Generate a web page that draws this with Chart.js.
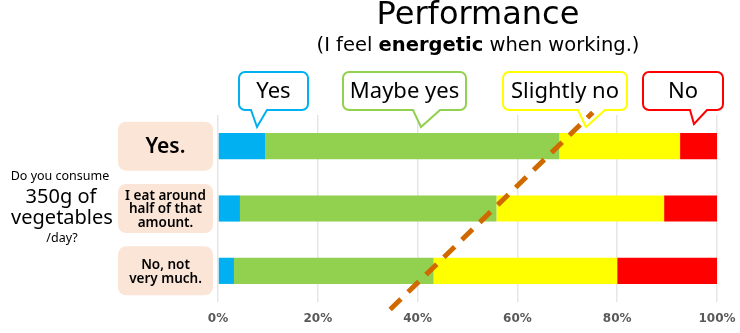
<!DOCTYPE html>
<html><head><meta charset="utf-8">
<script src="https://cdn.jsdelivr.net/npm/chart.js@4/dist/chart.umd.min.js"></script>
<style>html,body{margin:0;padding:0;background:#fff}#wrap{width:740px;height:333px;position:relative}</style>
</head><body><div id="wrap"><canvas id="c" width="740" height="333"></canvas></div>
<script>
// ---------- data ----------
const categories = [['Yes.'], ['I eat around', 'half of that', 'amount.'], ['No, not', 'very much.']];
const seriesNames = ['Yes', 'Maybe yes', 'Slightly no', 'No'];
const yesValues = [9.5, 4.4, 3.2];
const maybeYesValues = [58.9, 51.4, 40.0];
const slightlyNoValues = [24.2, 33.6, 36.8];
const noValues = [7.4, 10.6, 20.0];
const tickValues = [0, 20, 40, 60, 80, 100];
const trendX = [34.5, 75.1];      // % along the value axis
const trendY = [2.62, -0.54];     // category index position
const titleText = 'Performance';
const subtitleParts = ['(I feel ', 'energetic', ' when working.)'];
const sideQuestion = ['Do you consume', '350g of', 'vegetables', '/day?'];

// ---------- styles / layout ----------
const FONT = '"Noto Sans", "DejaVu Sans", sans-serif';
const WFONT = '"DejaVu Sans", sans-serif';
const colors = ['#00b0f0', '#92d050', '#ffff00', '#ff0000'];
const calloutBoxes = [
  {x0: 239, y0: 72, x1: 308, y1: 110, bx0: 251, bx1: 267, ax: 257, ay: 127},
  {x0: 343, y0: 72, x1: 466, y1: 110, bx0: 413, bx1: 440, ax: 421, ay: 127},
  {x0: 503, y0: 72, x1: 627, y1: 110, bx0: 578, bx1: 605, ax: 586, ay: 127},
  {x0: 643, y0: 72, x1: 723, y1: 110, bx0: 690, bx1: 707, ax: 694, ay: 124}
];
const seriesData = [yesValues, maybeYesValues, slightlyNoValues, noValues];

function calloutPath(ctx, b, r) {
  ctx.beginPath();
  ctx.moveTo(b.x0 + r, b.y0);
  ctx.lineTo(b.x1 - r, b.y0); ctx.arcTo(b.x1, b.y0, b.x1, b.y0 + r, r);
  ctx.lineTo(b.x1, b.y1 - r); ctx.arcTo(b.x1, b.y1, b.x1 - r, b.y1, r);
  ctx.lineTo(b.bx1, b.y1); ctx.lineTo(b.ax, b.ay); ctx.lineTo(b.bx0, b.y1);
  ctx.lineTo(b.x0 + r, b.y1); ctx.arcTo(b.x0, b.y1, b.x0, b.y1 - r, r);
  ctx.lineTo(b.x0, b.y0 + r); ctx.arcTo(b.x0, b.y0, b.x0 + r, b.y0, r);
  ctx.closePath();
}

const decor = {
  id: 'decor',
  beforeDatasetsDraw(chart) {
    const ctx = chart.ctx;
    const y = chart.scales.y;
    ctx.save();
    // left category boxes
    categories.forEach((lines, i) => {
      const cy = y.getPixelForValue(i);
      ctx.fillStyle = '#fbe5d6';
      ctx.beginPath();
      ctx.roundRect(118, cy - 24.5, 95, 49, 8);
      ctx.fill();
      ctx.fillStyle = '#000';
      ctx.textAlign = 'center';
      ctx.textBaseline = 'middle';
      if (lines.length === 1) {
        ctx.font = '600 21px ' + FONT;
        ctx.fillText(lines[0], 165.5, cy + 1);
      } else {
        ctx.font = '600 13.5px ' + FONT;
        const lh = 13.8;
        lines.forEach((t, k) => ctx.fillText(t, 165.5, cy + (k - (lines.length - 1) / 2) * lh + 1));
      }
    });
    // side question
    ctx.fillStyle = '#000';
    ctx.textAlign = 'center';
    ctx.textBaseline = 'middle';
    ctx.font = '12.5px ' + FONT; ctx.fillText(sideQuestion[0], 60, 176);
    ctx.font = '20px ' + FONT; ctx.fillText(sideQuestion[1], 61, 197);
    ctx.fillText(sideQuestion[2], 62, 218);
    ctx.font = '12.5px ' + FONT; ctx.fillText(sideQuestion[3], 62, 238);
    // title
    ctx.font = '32px ' + WFONT;
    ctx.fillText(titleText, 478, 16);
    // subtitle with bold word
    const fonts = ['19.5px ' + WFONT, 'bold 19.5px ' + WFONT, '19.5px ' + WFONT];
    let widths = subtitleParts.map((t, k) => { ctx.font = fonts[k]; return ctx.measureText(t).width; });
    let total = widths.reduce((a, b) => a + b, 0);
    let x = 478 - total / 2;
    ctx.textAlign = 'left';
    subtitleParts.forEach((t, k) => { ctx.font = fonts[k]; ctx.fillText(t, x, 46); x += widths[k]; });
    ctx.restore();
  },
  afterDatasetsDraw(chart) {
    const ctx = chart.ctx;
    ctx.save();
    calloutBoxes.forEach((b, i) => {
      calloutPath(ctx, b, 6);
      ctx.fillStyle = '#fff';
      ctx.fill();
      ctx.lineWidth = 2;
      ctx.strokeStyle = colors[i];
      ctx.stroke();
      ctx.fillStyle = '#000';
      ctx.font = '22px ' + FONT;
      ctx.textAlign = 'center';
      ctx.textBaseline = 'middle';
      ctx.fillText(seriesNames[i], (b.x0 + b.x1) / 2, (b.y0 + b.y1) / 2 + 1);
    });
    // dashed trend line
    const xs = chart.scales.x, ys = chart.scales.y;
    ctx.beginPath();
    ctx.moveTo(xs.getPixelForValue(trendX[0]), ys.getPixelForValue(trendY[0]));
    ctx.lineTo(xs.getPixelForValue(trendX[1]), ys.getPixelForValue(trendY[1]));
    ctx.setLineDash([15, 10]);
    ctx.lineWidth = 5;
    ctx.strokeStyle = '#d06a00';
    ctx.stroke();
    ctx.restore();
  }
};

new Chart(document.getElementById('c'), {
  type: 'bar',
  data: {
    labels: categories,
    datasets: seriesNames.map((n, i) => ({
      label: n, data: seriesData[i], backgroundColor: colors[i],
      borderWidth: 0, categoryPercentage: 0.42, barPercentage: 1
    }))
  },
  options: {
    indexAxis: 'y', responsive: false, animation: false, devicePixelRatio: 1,
    layout: {padding: {left: 218, right: 23, top: 115, bottom: 4}},
    plugins: {legend: {display: false}, tooltip: {enabled: false}, title: {display: false}},
    scales: {
      x: {
        stacked: true, min: tickValues[0], max: tickValues[tickValues.length - 1],
        afterBuildTicks: s => { s.ticks = tickValues.map(v => ({value: v})); },
        ticks: {callback: v => v + '%', color: '#595959', font: {family: WFONT, size: 12, weight: 'bold', lineHeight: 1}, padding: 4},
        grid: {color: '#e6e6e6', lineWidth: 1.5, drawTicks: true, tickLength: 7, tickColor: 'rgba(0,0,0,0)'},
        border: {display: false}
      },
      y: {stacked: true, display: false}
    }
  },
  plugins: [decor]
});
</script>
</body></html>
